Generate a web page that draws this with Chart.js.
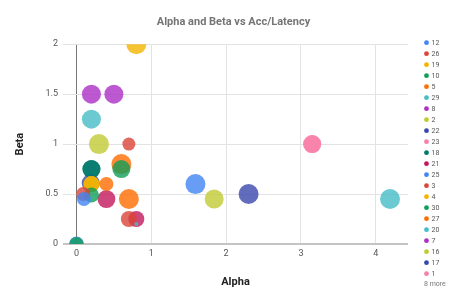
<!DOCTYPE html>
<html><head><meta charset="utf-8">
<script src="https://cdn.jsdelivr.net/npm/chart.js@4"></script>
<style>html,body{margin:0;padding:0;background:#fff}#wrap{width:467px;height:304px;position:relative}</style>
</head><body><div id="wrap"><canvas id="c"></canvas></div>
<script>
// Series (legend order)
const seriesNames = ['12','26','19','10','5','29','8','2','22','23','18','21','25','3','4','30','27','20','7','16','17','1','6','9','11','13','14','15','24','28'];
const alphaValues = [1.59,0.70,0.80,0.60,0.60,0.20,0.20,0.30,2.30,3.15,0.20,0.40,0.10,0.70,0.20,0.20,0.70,4.19,0.50,1.84,0.19,3.15,0.20,0.80,0.00,0.09,0.20,0.00,0.40,0.80];
const betaValues  = [0.60,1.00,2.00,0.75,0.80,1.25,1.50,1.00,0.50,1.00,0.75,0.45,0.45,0.25,0.60,0.49,0.45,0.45,1.50,0.45,0.61,1.00,0.75,0.25,0.00,0.50,0.60,0.00,0.60,0.20];
const sizeValues  = [1.00,0.65,1.00,0.90,1.00,0.95,0.95,1.00,1.00,0.90,0.90,0.90,0.70,0.80,0.80,0.75,1.00,1.00,0.95,0.95,0.90,0.90,0.90,0.80,0.75,0.70,0.80,0.70,0.70,0.20];
const xTickValues = [0,1,2,3,4];
const xTickLabels = ['0','1','2','3','4'];
const yTickValues = [0,0.5,1,1.5,2];
const yTickLabels = ['0','0.5','1','1.5','2'];
const hiddenCountLabel = '8 more';
const legendShown = 22;

const palette = ['#4285f4','#db4437','#f4b400','#0f9d58','#ff6d00','#46bdc6','#ab30c4','#c0ca33','#3949ab','#f77fa8','#00796b','#c2185b'];
const RADIUS_SCALE = 10;

function hexA(h,a){const n=parseInt(h.slice(1),16);return `rgba(${n>>16&255},${n>>8&255},${n&255},${a})`;}

const datasets = seriesNames.map((name,i)=>{
  const col = palette[i%palette.length];
  const r = sizeValues[i]*RADIUS_SCALE;
  return {
    label: name,
    data: [{x: alphaValues[i], y: betaValues[i], r: r}],
    backgroundColor: hexA(col,0.8),
    hoverBackgroundColor: hexA(col,0.8),
    borderWidth: 0,
    hoverBorderWidth: 0,
    legendColor: col,
    order: r,
    clip: 0
  };
});

const legendPlugin = {
  id: 'sideLegend',
  afterDraw(chart){
    const ctx = chart.ctx;
    ctx.save();
    ctx.font = '7px Roboto';
    ctx.textBaseline = 'middle';
    ctx.textAlign = 'left';
    const ds = chart.data.datasets;
    for (let i=0;i<legendShown && i<ds.length;i++){
      const y = 42.7 + 11*i;
      ctx.fillStyle = ds[i].legendColor;
      ctx.beginPath(); ctx.arc(426.5, y, 2.4, 0, Math.PI*2); ctx.fill();
      ctx.fillStyle = '#555';
      ctx.fillText(ds[i].label, 431.5, y+0.3);
    }
    ctx.fillStyle = '#777';
    ctx.fillText(hiddenCountLabel, 424, 284.3);
    ctx.restore();
  }
};

new Chart(document.getElementById('c'), {
  type: 'bubble',
  data: { datasets },
  plugins: [legendPlugin],
  options: {
    responsive: true,
    maintainAspectRatio: false,
    animation: false,
    events: [],
    layout: { padding: { left: 0, right: 0, top: 0, bottom: 0 } },
    plugins: {
      legend: { display: false },
      tooltip: { enabled: false },
      title: {
        display: true,
        text: 'Alpha and Beta vs Acc/Latency',
        color: '#757575',
        font: { family: 'Roboto', size: 11, weight: 'bold' },
        padding: { top: 16, bottom: 15 }
      }
    },
    scales: {
      x: {
        type: 'linear',
        min: -0.18, max: 4.43,
        afterBuildTicks: s => { s.ticks = xTickValues.map(v => ({ value: v })); },
        afterFit: s => { s.height = 60; },
        grid: {
          drawTicks: false,
          color: c => (c.tick && c.tick.value === 0) ? '#777777' : '#e3e3e3',
          lineWidth: 1
        },
        border: { display: false },
        ticks: {
          color: '#555', padding: 4, font: { family: 'Roboto', size: 9 }, maxRotation: 0,
          callback: v => { const k = xTickValues.indexOf(v); return k >= 0 ? xTickLabels[k] : ''; }
        },
        title: {
          display: true, text: 'Alpha', color: '#222',
          font: { family: 'Roboto', size: 11, weight: 'bold' },
          padding: { top: 0, bottom: 15.4 }
        }
      },
      y: {
        type: 'linear',
        min: 0, max: 2,
        afterBuildTicks: s => { s.ticks = yTickValues.map(v => ({ value: v })); },
        afterFit: s => { s.width = 63; },
        grid: {
          drawTicks: false,
          color: c => (c.tick && c.tick.value === 0) ? '#c4c4c4' : '#e3e3e3',
          lineWidth: c => (c.tick && c.tick.value === 0) ? 2 : 1
        },
        border: { display: false },
        ticks: {
          color: '#555', padding: 5, font: { family: 'Roboto', size: 9 },
          callback: v => { const k = yTickValues.indexOf(v); return k >= 0 ? yTickLabels[k] : ''; }
        },
        title: {
          display: true, text: 'Beta', color: '#222',
          font: { family: 'Roboto', size: 11, weight: 'bold' },
          padding: { top: 13.4, bottom: 0 }
        }
      },
      legendSpace: {
        type: 'linear',
        position: 'right',
        display: true,
        min: 0, max: 1,
        afterFit: s => { s.width = 59; },
        grid: { display: false, drawTicks: false },
        border: { display: false },
        ticks: { display: false },
        title: { display: false }
      }
    }
  }
});
</script>
</body></html>
